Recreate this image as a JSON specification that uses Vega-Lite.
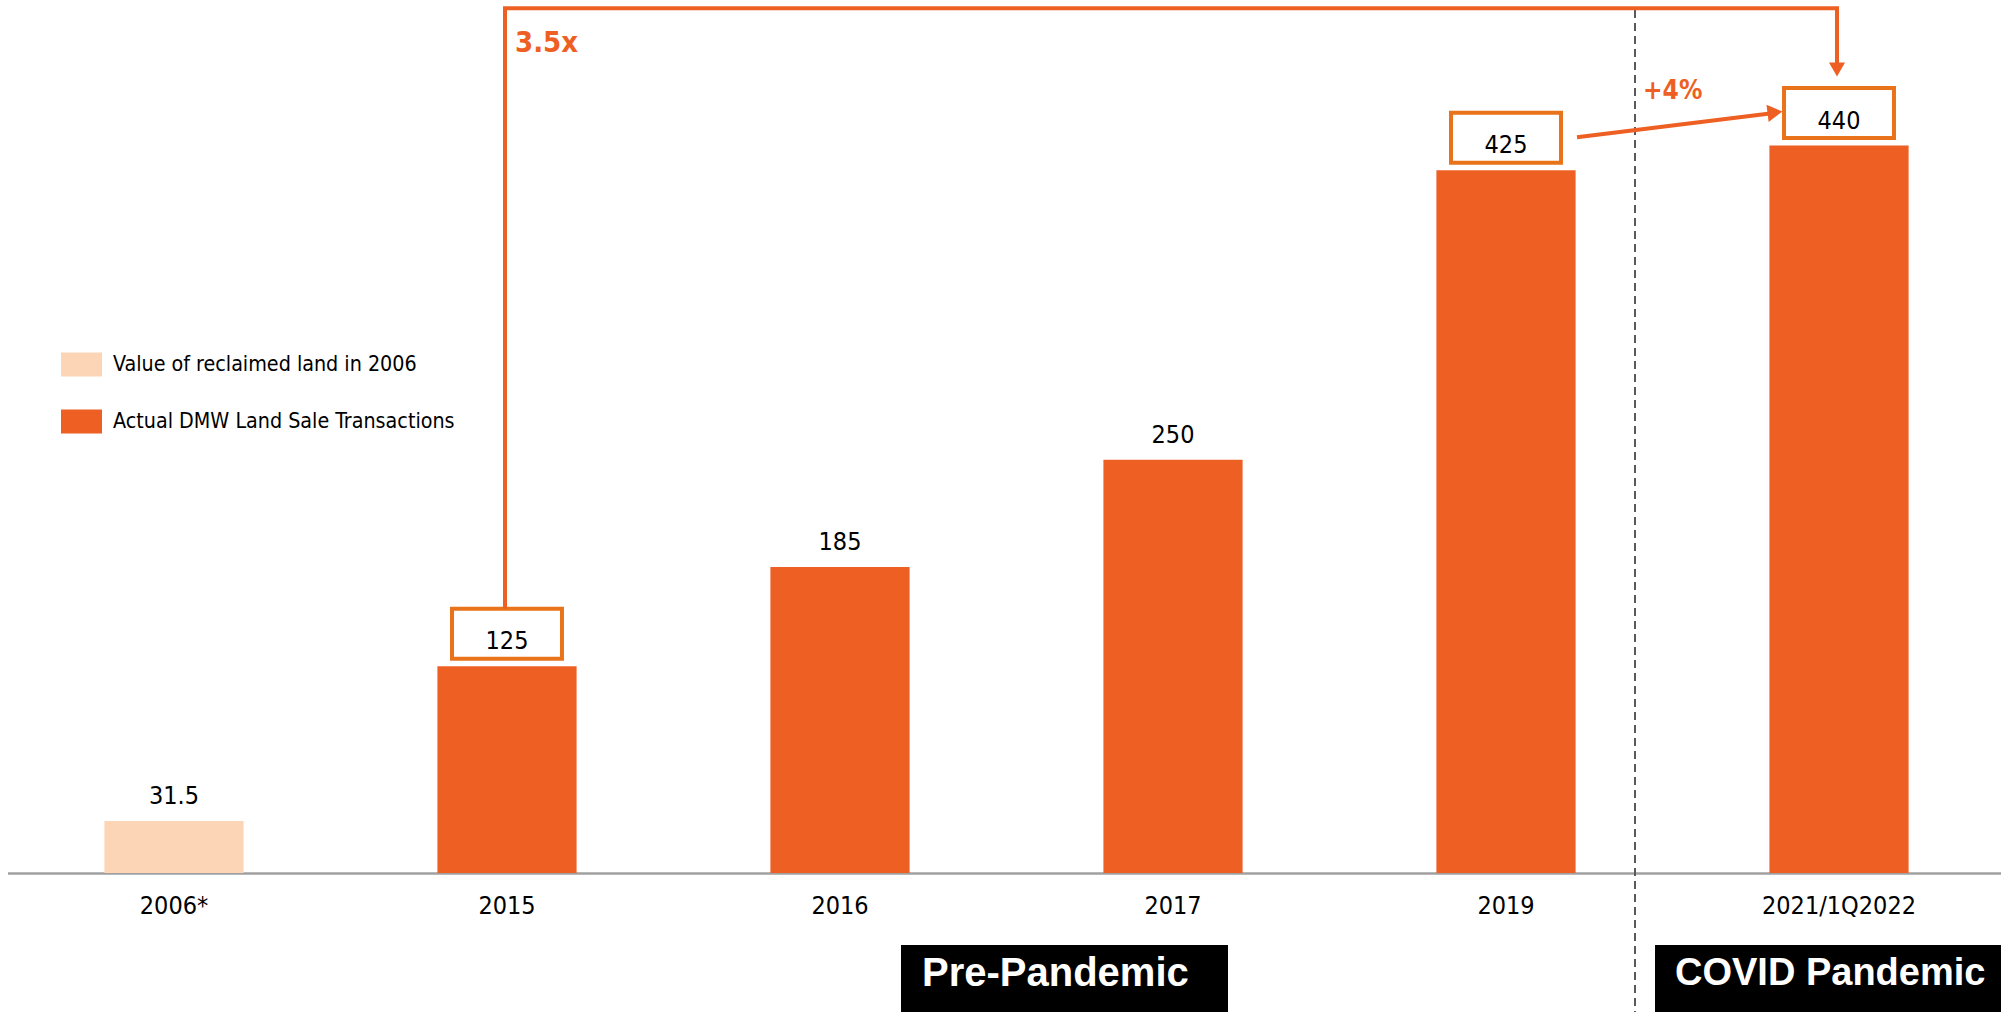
{
  "$schema": "https://vega.github.io/schema/vega-lite/v6.json",
  "width": 2001,
  "height": 873,
  "autosize": {"type": "none"},
  "padding": {"left": 0, "top": 0, "right": 0, "bottom": 139},
  "background": "white",
  "config": {
    "view": {"stroke": null},
    "font": "DejaVu Sans Condensed, DejaVu Sans, sans-serif"
  },
  "datasets": {
    "bars": [
      {"period": "2006*", "value": 31.5, "series": "Value of reclaimed land in 2006", "boxed": false},
      {"period": "2015", "value": 125, "series": "Actual DMW Land Sale Transactions", "boxed": true},
      {"period": "2016", "value": 185, "series": "Actual DMW Land Sale Transactions", "boxed": false},
      {"period": "2017", "value": 250, "series": "Actual DMW Land Sale Transactions", "boxed": false},
      {"period": "2019", "value": 425, "series": "Actual DMW Land Sale Transactions", "boxed": true},
      {"period": "2021/1Q2022", "value": 440, "series": "Actual DMW Land Sale Transactions", "boxed": true}
    ]
  },
  "layer": [
    {
      "data": {"name": "bars"},
      "mark": {"type": "bar"},
      "encoding": {
        "x": {
          "field": "period", "type": "nominal", "sort": null, "title": null,
          "scale": {"domain": ["2006*", "2015", "2016", "2017", "2019", "2021/1Q2022"], "range": [7.5, 2005.5], "paddingInner": 0.582, "paddingOuter": 0.291},
          "axis": {"title": null, "ticks": false, "grid": false, "domainColor": "#A0A0A0", "domainWidth": 2.5, "labelFontSize": 25, "labelColor": "#000000", "labelPadding": 20, "labelAngle": 0, "labelFont": "DejaVu Sans Condensed, DejaVu Sans, sans-serif"}
        },
        "y": {"field": "value", "type": "quantitative", "scale": {"domain": [0, 528], "nice": false, "zero": true}, "axis": null},
        "color": {
          "field": "series", "type": "nominal",
          "scale": {"domain": ["Value of reclaimed land in 2006", "Actual DMW Land Sale Transactions"], "range": ["#FBD5B5", "#EE5F24"]},
          "legend": {"title": null, "orient": "none", "legendX": 61, "legendY": 344, "symbolType": "M-1,-0.58H1V0.58H-1Z", "symbolSize": 1681, "symbolStrokeWidth": 0, "symbolOpacity": 1, "labelFontSize": 21.3, "labelColor": "#000000", "labelOffset": 11, "labelLimit": 0, "rowPadding": 24, "padding": 0, "labelFont": "DejaVu Sans Condensed, DejaVu Sans, sans-serif"}
        }
      }
    },
    {
      "data": {"values": [{"period": "2021/1Q2022", "top": 522, "bottom": -85}]},
      "mark": {"type": "rule", "xOffset": -204, "stroke": "#595959", "strokeWidth": 2, "strokeDash": [8, 5]},
      "encoding": {
        "x": {"field": "period", "type": "nominal", "sort": null, "title": null},
        "y": {"field": "top", "type": "quantitative", "scale": {"domain": [0, 528], "nice": false}, "axis": null},
        "y2": {"field": "bottom"}
      }
    },
    {
      "data": {"name": "bars"},
      "transform": [{"filter": "datum.boxed"}],
      "mark": {"type": "rect", "width": {"band": 0.79}, "yOffset": -57.5, "y2Offset": -7.5, "fill": "#FFFFFF", "stroke": "#E9731B", "strokeWidth": 4},
      "encoding": {
        "x": {"field": "period", "type": "nominal", "sort": null, "title": null},
        "y": {"field": "value", "type": "quantitative", "scale": {"domain": [0, 528], "nice": false}, "axis": null},
        "y2": {"field": "value"}
      }
    },
    {
      "data": {"name": "bars"},
      "mark": {"type": "text", "baseline": "middle", "align": "center", "dy": -25, "fontSize": 25, "color": "#000000"},
      "encoding": {
        "x": {"field": "period", "type": "nominal", "sort": null, "title": null},
        "y": {"field": "value", "type": "quantitative", "scale": {"domain": [0, 528], "nice": false}, "axis": null},
        "text": {"field": "value", "type": "quantitative", "format": "~g"}
      }
    },
    {
      "data": {"values": [
        {"period": "2015", "value": 160, "i": 0},
        {"period": "2015", "value": 523, "i": 1},
        {"period": "2021/1Q2022", "value": 523, "i": 2},
        {"period": "2021/1Q2022", "value": 489, "i": 3}
      ]},
      "mark": {"type": "line", "stroke": "#EE5F24", "strokeWidth": 4, "strokeJoin": "miter", "xOffset": -2},
      "encoding": {
        "x": {"field": "period", "type": "nominal", "sort": null, "title": null},
        "y": {"field": "value", "type": "quantitative", "scale": {"domain": [0, 528], "nice": false}, "axis": null},
        "order": {"field": "i", "type": "quantitative"}
      }
    },
    {
      "data": {"values": [{"period": "2021/1Q2022", "value": 486}]},
      "mark": {"type": "point", "shape": "triangle-down", "filled": true, "size": 260, "xOffset": -2, "color": "#EE5F24", "opacity": 1},
      "encoding": {
        "x": {"field": "period", "type": "nominal", "sort": null, "title": null},
        "y": {"field": "value", "type": "quantitative", "scale": {"domain": [0, 528], "nice": false}, "axis": null}
      }
    },
    {
      "data": {"values": [{"from": "2019", "to": "2021/1Q2022", "v1": 445, "v2": 459.3}]},
      "mark": {"type": "rule", "xOffset": 71, "x2Offset": -69, "stroke": "#EE5F24", "strokeWidth": 4},
      "encoding": {
        "x": {"field": "from", "type": "nominal", "sort": null, "title": null},
        "x2": {"field": "to"},
        "y": {"field": "v1", "type": "quantitative", "scale": {"domain": [0, 528], "nice": false}, "axis": null},
        "y2": {"field": "v2"}
      }
    },
    {
      "data": {"values": [{"period": "2021/1Q2022", "value": 460}]},
      "mark": {"type": "point", "shape": "triangle-right", "filled": true, "size": 300, "angle": -7, "xOffset": -64, "color": "#EE5F24", "opacity": 1},
      "encoding": {
        "x": {"field": "period", "type": "nominal", "sort": null, "title": null},
        "y": {"field": "value", "type": "quantitative", "scale": {"domain": [0, 528], "nice": false}, "axis": null}
      }
    },
    {
      "data": {"values": [{"label": "3.5x", "period": "2015", "value": 502}]},
      "mark": {"type": "text", "align": "left", "baseline": "middle", "xOffset": 8, "fontSize": 29, "fontWeight": "bold", "color": "#EE5F24"},
      "encoding": {
        "x": {"field": "period", "type": "nominal", "sort": null, "title": null},
        "y": {"field": "value", "type": "quantitative", "scale": {"domain": [0, 528], "nice": false}, "axis": null},
        "text": {"field": "label"}
      }
    },
    {
      "data": {"values": [{"label": "+4%", "period": "2019", "value": 473}]},
      "mark": {"type": "text", "align": "left", "baseline": "middle", "xOffset": 137, "fontSize": 26, "fontWeight": "bold", "color": "#EE5F24"},
      "encoding": {
        "x": {"field": "period", "type": "nominal", "sort": null, "title": null},
        "y": {"field": "value", "type": "quantitative", "scale": {"domain": [0, 528], "nice": false}, "axis": null},
        "text": {"field": "label"}
      }
    },
    {
      "data": {"values": [{"from": "2016", "to": "2017", "top": -43.5, "bottom": -86}]},
      "mark": {"type": "rect", "xOffset": 61, "x2Offset": 55, "fill": "#000000"},
      "encoding": {
        "x": {"field": "from", "type": "nominal", "sort": null, "title": null, "bandPosition": 0.5},
        "x2": {"field": "to", "bandPosition": 0.5},
        "y": {"field": "top", "type": "quantitative", "scale": {"domain": [0, 528], "nice": false}, "axis": null},
        "y2": {"field": "bottom"}
      }
    },
    {
      "data": {"values": [{"from": "2021/1Q2022", "to": "2021/1Q2022", "top": -43.5, "bottom": -86}]},
      "mark": {"type": "rect", "xOffset": -184, "x2Offset": 175, "fill": "#000000"},
      "encoding": {
        "x": {"field": "from", "type": "nominal", "sort": null, "title": null, "bandPosition": 0.5},
        "x2": {"field": "to", "bandPosition": 0.5},
        "y": {"field": "top", "type": "quantitative", "scale": {"domain": [0, 528], "nice": false}, "axis": null},
        "y2": {"field": "bottom"}
      }
    },
    {
      "data": {"values": [{"label": "Pre-Pandemic", "period": "2016", "value": -61}]},
      "mark": {"type": "text", "align": "left", "baseline": "middle", "xOffset": 82, "fontSize": 40, "fontWeight": "bold", "font": "Liberation Sans, Arial, sans-serif", "color": "#FFFFFF"},
      "encoding": {
        "x": {"field": "period", "type": "nominal", "sort": null, "title": null},
        "y": {"field": "value", "type": "quantitative", "scale": {"domain": [0, 528], "nice": false}, "axis": null},
        "text": {"field": "label"}
      }
    },
    {
      "data": {"values": [{"label": "COVID Pandemic", "period": "2021/1Q2022", "value": -61}]},
      "mark": {"type": "text", "align": "left", "baseline": "middle", "xOffset": -164, "fontSize": 38, "fontWeight": "bold", "font": "Liberation Sans, Arial, sans-serif", "color": "#FFFFFF"},
      "encoding": {
        "x": {"field": "period", "type": "nominal", "sort": null, "title": null},
        "y": {"field": "value", "type": "quantitative", "scale": {"domain": [0, 528], "nice": false}, "axis": null},
        "text": {"field": "label"}
      }
    }
  ]
}
